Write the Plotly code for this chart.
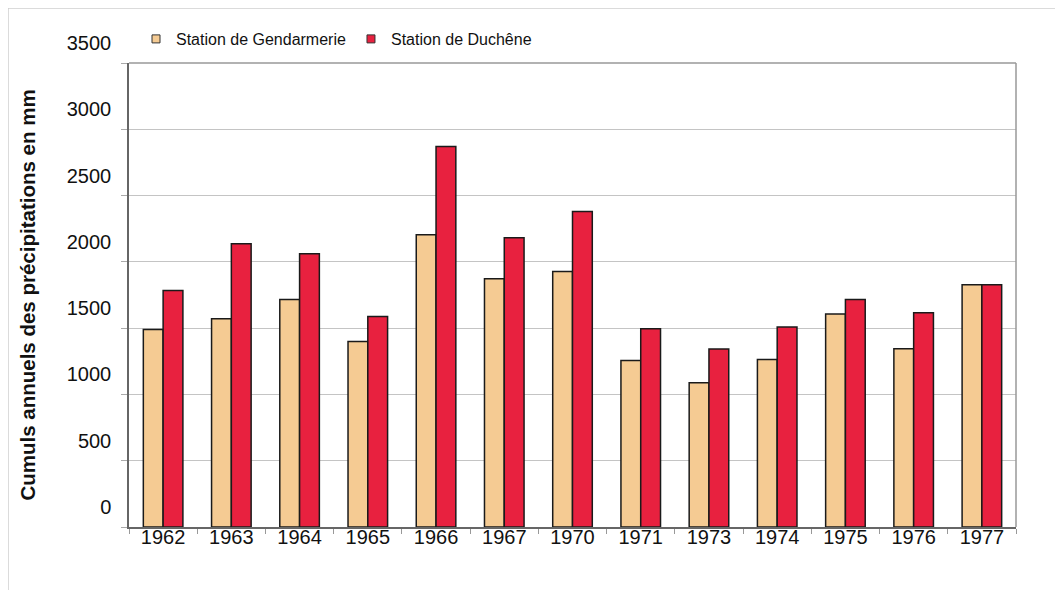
import plotly.graph_objects as go

years = ["1962", "1963", "1964", "1965", "1966", "1967", "1970",
         "1971", "1973", "1974", "1975", "1976", "1977"]
gendarmerie = [1490, 1571, 1716, 1400, 2204, 1872, 1927,
               1256, 1088, 1264, 1606, 1345, 1827]
duchene = [1784, 2136, 2061, 1588, 2870, 2181, 2380,
           1495, 1342, 1508, 1716, 1616, 1827]
y_ticks = [0, 500, 1000, 1500, 2000, 2500, 3000, 3500]

name_g = "Station de Gendarmerie"
name_d = "Station de Duchêne"
col_g = "#F5CB93"
col_d = "#E8213F"
edge = "#1a1a1a"
font_family = "Liberation Sans, Arial, sans-serif"

# the page body adds an 8px offset; build the figure in screen coordinates minus 8
OFF = 8
W, H = 1063 - OFF, 590 - OFF
# plot area in screen pixels: x 129..1016, y 63..527
L, T = 129 - OFF, 63 - OFF
R, B = W - (1016 - OFF), H - (527 - OFF)
pw, ph = W - L - R, H - T - B


def px_x(screen_x):
    return (screen_x - OFF - L) / pw


def px_y(screen_y):
    return (H - B - (screen_y - OFF)) / ph


fig = go.Figure()
fig.add_trace(go.Bar(x=years, y=gendarmerie, name=name_g, showlegend=False,
                     marker=dict(color=col_g, line=dict(color=edge, width=1.5))))
fig.add_trace(go.Bar(x=years, y=duchene, name=name_d, showlegend=False,
                     marker=dict(color=col_d, line=dict(color=edge, width=1.5))))
# legend entries (small square markers like the reference)
for nm, col in [(name_g, col_g), (name_d, col_d)]:
    fig.add_trace(go.Scatter(x=[None], y=[None], mode="markers", name=nm,
                             marker=dict(symbol="square", size=8, color=col,
                                         line=dict(color="#333", width=1))))

fig.update_layout(
    width=W, height=H,
    margin=dict(l=L, r=R, t=T, b=B),
    paper_bgcolor="white", plot_bgcolor="white",
    barmode="group", bargap=0.42, bargroupgap=0,
    font=dict(family=font_family, color="#111"),
    legend=dict(orientation="h", x=px_x(136), xanchor="left",
                y=px_y(39), yanchor="middle",
                font=dict(size=16, color="#111"),
                bgcolor="rgba(0,0,0,0)", itemwidth=30),
    showlegend=True,
)

fig.update_xaxes(
    type="category", showgrid=False,
    showline=True, linecolor="#666", linewidth=1.5,
    ticks="outside", tickson="boundaries", ticklen=5, tickcolor="#999",
    tickfont=dict(size=20, color="#111"),
    ticklabelstandoff=-9,
)
fig.update_yaxes(
    range=[0, 3500], tickvals=y_ticks,
    showgrid=True, gridcolor="#c4c4c4", gridwidth=1, zeroline=False,
    showline=True, linecolor="#666", linewidth=1.5,
    ticks="outside", ticklen=6, tickcolor="#aaa",
    tickfont=dict(size=20, color="#111"),
    ticklabelshift=-20, ticklabelstandoff=6,
    title=dict(text="<b>Cumuls annuels des précipitations en mm</b>",
               font=dict(size=20.5, color="#111"), standoff=26),
)

# top and right plot borders (lighter gray)
fig.add_shape(type="line", xref="paper", yref="paper", x0=0, x1=1, y0=1, y1=1,
              line=dict(color="#999", width=1.5))
fig.add_shape(type="line", xref="paper", yref="paper", x0=1, x1=1, y0=0, y1=1,
              line=dict(color="#999", width=1.5))
# outer frame (top and left edges visible)
fig.add_shape(type="rect", xref="paper", yref="paper",
              x0=px_x(8), x1=px_x(1090), y0=px_y(8), y1=px_y(620),
              line=dict(color="#cfcfcf", width=1.5), layer="below")

fig.write_html("out.html")
